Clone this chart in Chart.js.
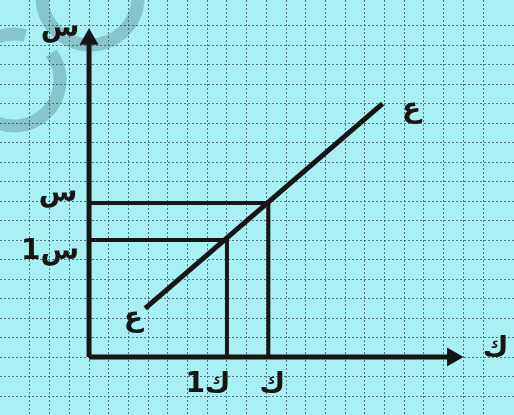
<!DOCTYPE html>
<html lang="ar">
<head>
<meta charset="utf-8">
<script src="https://cdn.jsdelivr.net/npm/chart.js@4"></script>
<style>
  html, body { margin: 0; padding: 0; background: #a9f0f5; }
  #wrap { width: 514px; height: 415px; position: relative; }
</style>
</head>
<body>
<div id="wrap"><canvas id="graph"></canvas></div>
<script>
// الخط ع ع
const lineX = [2.85, 14.9];
const lineY = [2.5, 13];
// ك1 ، ك
const kValues = [7, 9.1];
// س1 ، س
const sValues = [6, 7.9];
const kLabels = ["ك1", "ك"];
const sLabels = ["س1", "س"];
// طول المحورين
const xAxisEnd = 18.45;
const yAxisEnd = 16.3;
// حدود ورقة الرسم البياني
const xRange = [-4.52, 21.57];
const yRange = [-2.97, 18.31];

const ink = "#161616";
const paper = "#a9f0f5";

const ctx = document.getElementById("graph").getContext("2d");

// خلفية الورقة و العلامة المائية
const paperPlugin = {
  id: "paper",
  beforeDraw(chart) {
    const c = chart.ctx;
    c.save();
    c.fillStyle = paper;
    c.fillRect(0, 0, chart.width, chart.height);
    c.strokeStyle = "#86c5cc";
    c.lineWidth = 13;
    c.beginPath();
    c.arc(90, -3, 48, 0, Math.PI);
    c.stroke();
    c.beginPath();
    c.arc(14, 80, 46, -Math.PI * 0.2, Math.PI * 0.62);
    c.stroke();
    c.beginPath();
    c.arc(14, 80, 46, -Math.PI * 0.62, -Math.PI * 0.42);
    c.stroke();
    c.restore();
  }
};

// الكتابة العربية
const labelsPlugin = {
  id: "labels",
  afterDatasetsDraw(chart) {
    const c = chart.ctx;
    const xs = chart.scales.x;
    const ys = chart.scales.y;
    const x0 = xs.getPixelForValue(0);
    const y0 = ys.getPixelForValue(0);
    c.save();
    c.fillStyle = ink;
    c.font = "bold 28px 'DejaVu Sans'";
    c.textAlign = "center";
    c.textBaseline = "middle";
    c.direction = "rtl";
    const put = (t, x, y) => c.fillText(t, x, y);
    put("س", x0 - 29, ys.getPixelForValue(yAxisEnd) - 10);
    put("ك", xs.getPixelForValue(xAxisEnd) + 43, y0 - 8);
    put("ع", xs.getPixelForValue(lineX[1]) + 29, ys.getPixelForValue(lineY[1]) + 6);
    put("ع", xs.getPixelForValue(lineX[0]) - 12, ys.getPixelForValue(lineY[0]) + 10);
    put(sLabels[1], x0 - 31, ys.getPixelForValue(sValues[1]) - 9);
    put(sLabels[0], x0 - 39, ys.getPixelForValue(sValues[0]) + 12);
    put(kLabels[0], xs.getPixelForValue(kValues[0]) - 19, y0 + 28);
    put(kLabels[1], xs.getPixelForValue(kValues[1]) + 4, y0 + 28);
    c.restore();
  }
};

const gridColor = (context) =>
  Number.isInteger(context.tick.value) ? "rgba(45, 80, 90, 0.75)" : "transparent";

new Chart(ctx, {
  type: "scatter",
  data: {
    datasets: [
      {
        data: [{ x: 0, y: 0 }, { x: 0, y: yAxisEnd }],
        showLine: true, borderColor: ink, borderWidth: 5,
        pointRadius: [0, 11], pointStyle: "triangle", pointRotation: 0,
        pointBackgroundColor: ink, pointBorderWidth: 0
      },
      {
        data: [{ x: 0, y: 0 }, { x: xAxisEnd, y: 0 }],
        showLine: true, borderColor: ink, borderWidth: 5,
        pointRadius: [0, 11], pointStyle: "triangle", pointRotation: 90,
        pointBackgroundColor: ink, pointBorderWidth: 0
      },
      {
        data: [{ x: 0, y: sValues[1] }, { x: kValues[1], y: sValues[1] }, { x: kValues[1], y: 0 }],
        showLine: true, borderColor: ink, borderWidth: 4, pointRadius: 0
      },
      {
        data: [{ x: 0, y: sValues[0] }, { x: kValues[0], y: sValues[0] }, { x: kValues[0], y: 0 }],
        showLine: true, borderColor: ink, borderWidth: 4, pointRadius: 0
      },
      {
        data: lineX.map((x, i) => ({ x: x, y: lineY[i] })),
        showLine: true, borderColor: ink, borderWidth: 5, pointRadius: 0
      }
    ]
  },
  options: {
    responsive: true,
    maintainAspectRatio: false,
    animation: false,
    layout: { padding: 0, autoPadding: false },
    plugins: { legend: { display: false }, tooltip: { enabled: false } },
    scales: {
      x: {
        type: "linear", min: xRange[0], max: xRange[1],
        ticks: { display: false, stepSize: 1 },
        grid: { color: gridColor, lineWidth: 1, drawTicks: false },
        border: { display: false, dash: [2, 2] }
      },
      y: {
        type: "linear", min: yRange[0], max: yRange[1],
        ticks: { display: false, stepSize: 1 },
        grid: { color: gridColor, lineWidth: 1, drawTicks: false },
        border: { display: false, dash: [2, 2] }
      }
    }
  },
  plugins: [paperPlugin, labelsPlugin]
});
</script>
</body>
</html>
